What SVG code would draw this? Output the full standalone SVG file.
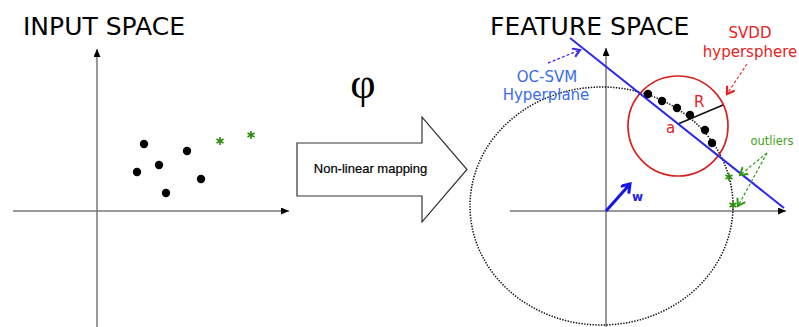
<svg xmlns="http://www.w3.org/2000/svg" width="799" height="327" viewBox="0 0 799 327">
<style>
.title{font-family:"DejaVu Sans",sans-serif;font-size:25px;fill:#000}
.axis{stroke:#777;stroke-width:1.5;fill:none}
.dot{fill:#000}
.star{stroke:#2e8b0e;stroke-width:1.6;fill:none}
.lbl{font-family:"DejaVu Sans",sans-serif;font-size:15px}
</style>
<defs>
<marker id="ax" markerUnits="userSpaceOnUse" markerWidth="9" markerHeight="8" refX="8" refY="3.5" orient="auto"><path d="M0,0 L8,3.5 L0,7 z" fill="#000"/></marker>
<marker id="cb" markerUnits="userSpaceOnUse" markerWidth="12" markerHeight="12" refX="8" refY="5" orient="auto"><path d="M1,0.5 L8,5 L1,9.5" fill="none" stroke="#3b2ff0" stroke-width="2.2"/></marker>
<marker id="cr" markerUnits="userSpaceOnUse" markerWidth="12" markerHeight="12" refX="8" refY="5" orient="auto"><path d="M1,0.5 L8,5 L1,9.5" fill="none" stroke="#e82222" stroke-width="2.2"/></marker>
<marker id="cg" markerUnits="userSpaceOnUse" markerWidth="12" markerHeight="12" refX="8" refY="5" orient="auto"><path d="M1,0.5 L8,5 L1,9.5" fill="none" stroke="#2e9a14" stroke-width="2"/></marker>
<marker id="cw" markerUnits="userSpaceOnUse" markerWidth="14" markerHeight="14" refX="9" refY="6" orient="auto"><path d="M1,0.5 L9,6 L1,11.5" fill="none" stroke="#1414f0" stroke-width="3"/></marker>
<path id="ast" d="M0,-4 V4 M-3.5,-2 L3.5,2 M-3.5,2 L3.5,-2"/>
</defs>

<g id="input-space">
<text class="title" x="23" y="35">INPUT SPACE</text>
<line class="axis" x1="97" y1="327" x2="97" y2="49" marker-end="url(#ax)"/>
<line class="axis" x1="13" y1="211" x2="289" y2="211" marker-end="url(#ax)"/>
<circle class="dot" cx="144" cy="144" r="4.2"/>
<circle class="dot" cx="159" cy="165" r="4.2"/>
<circle class="dot" cx="137" cy="172" r="4.2"/>
<circle class="dot" cx="187" cy="151" r="4.2"/>
<circle class="dot" cx="201" cy="179" r="4.2"/>
<circle class="dot" cx="166" cy="193" r="4.2"/>
<use href="#ast" class="star" x="220" y="141"/>
<use href="#ast" class="star" x="251" y="135"/>
</g>

<g id="phi">
<text x="363" y="98" text-anchor="middle" font-family="Liberation Serif, serif" font-size="44" fill="#000">φ</text>
</g>

<g id="mapping-arrow">
<path d="M297,143 L422,143 L422,117 L467,169.5 L422,222 L422,196 L297,196 z" fill="#fff" stroke="#333" stroke-width="1.2"/>
<text x="370.5" y="173" text-anchor="middle" font-family="Liberation Sans, sans-serif" font-size="13" fill="#000" stroke="#000" stroke-width="0.2">Non-linear mapping</text>
</g>

<g id="feature-space">
<text class="title" x="490" y="35">FEATURE SPACE</text>
<line class="axis" x1="606" y1="327" x2="606" y2="48" marker-end="url(#ax)"/>
<line class="axis" x1="510" y1="211" x2="786" y2="211" marker-end="url(#ax)"/>
<ellipse cx="601.5" cy="206" rx="131.5" ry="119" fill="none" stroke="#111" stroke-width="1.5" stroke-dasharray="1.4,1.4"/>
</g>

<g id="svdd-hypersphere">
<circle cx="678" cy="126" r="50" fill="none" stroke="#d92020" stroke-width="1.7"/>
<line x1="678" y1="124" x2="723" y2="105" stroke="#111" stroke-width="1.6"/>
<text class="lbl" x="694" y="107" fill="#e82222">R</text>
<text class="lbl" x="666" y="133" fill="#e82222">a</text>
</g>

<g id="hyperplane">
<line x1="570" y1="38" x2="784" y2="208" stroke="#2b2bef" stroke-width="2"/>
</g>

<g id="support-points">
<circle class="dot" cx="648" cy="94" r="4.2"/>
<circle class="dot" cx="662" cy="101" r="4.2"/>
<circle class="dot" cx="677" cy="108" r="4.2"/>
<circle class="dot" cx="690" cy="115" r="4.2"/>
<circle class="dot" cx="705" cy="130" r="4.2"/>
<circle class="dot" cx="712" cy="143" r="4.2"/>
<use href="#ast" class="star" x="729" y="177"/>
<use href="#ast" class="star" x="733" y="205"/>
</g>

<g id="w-vector">
<line x1="606" y1="211" x2="630" y2="184" stroke="#1414f0" stroke-width="3" marker-end="url(#cw)"/>
<text x="632" y="201" font-family="DejaVu Sans, sans-serif" font-size="12" font-weight="bold" fill="#2020f0">w</text>
</g>

<g id="ocsvm-label">
<text class="lbl" x="547" y="82" text-anchor="middle" fill="#3a6cf0">OC-SVM</text>
<text class="lbl" x="546" y="100" text-anchor="middle" fill="#3a6cf0">Hyperplane</text>
</g>

<g id="svdd-label">
<text class="lbl" x="750" y="38" text-anchor="middle" fill="#e82222">SVDD</text>
<text class="lbl" x="750" y="57" text-anchor="middle" fill="#e82222">hypersphere</text>
</g>

<g id="outliers-label">
<text x="772" y="145" text-anchor="middle" font-family="DejaVu Sans, sans-serif" font-size="11.5" fill="#3fa21c">outliers</text>
</g>

<g id="connectors" fill="none" stroke-dasharray="3,2">
<line x1="548" y1="63" x2="580" y2="50" stroke="#5533ee" stroke-width="1.4" marker-end="url(#cb)"/>
<line x1="747" y1="64" x2="727" y2="94" stroke="#e83333" stroke-width="1.2" marker-end="url(#cr)"/>
<line x1="767" y1="153" x2="740" y2="175" stroke="#2e9a14" stroke-width="1.2" marker-end="url(#cg)"/>
<line x1="767" y1="153" x2="738" y2="206" stroke="#2e9a14" stroke-width="1.2" marker-end="url(#cg)"/>
</g>
</svg>
